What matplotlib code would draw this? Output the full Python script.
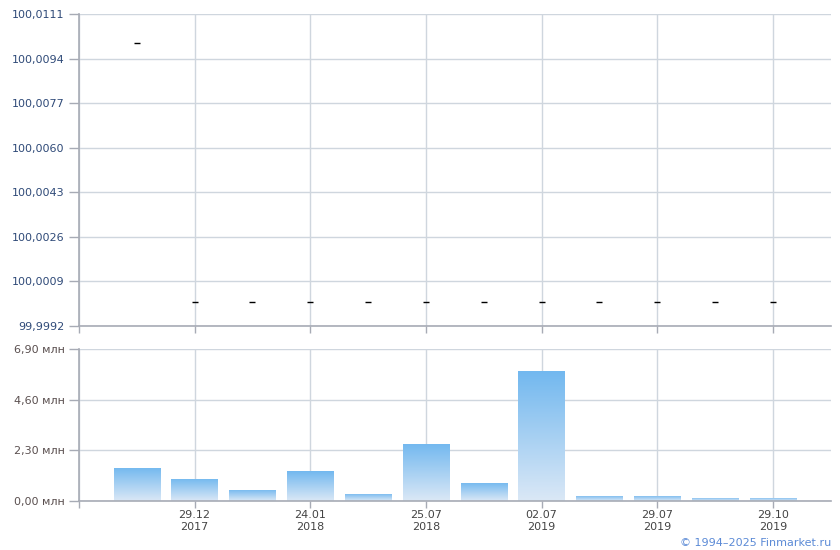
import numpy as np
import matplotlib
matplotlib.use('Agg')
import matplotlib.pyplot as plt
from matplotlib.ticker import FuncFormatter

# price per placement (top panel), volume in mln (bottom panel)
prices = [100.0100, 100.0001, 100.0001, 100.0001, 100.0001, 100.0001,
          100.0001, 100.0001, 100.0001, 100.0001, 100.0001, 100.0001]
volumes = [1.50, 1.00, 0.50, 1.36, 0.32, 2.59, 0.82, 5.90, 0.23, 0.23, 0.15, 0.15]
tick_idx = [1, 3, 5, 7, 9, 11]
tick_labels = ['29.12\n2017', '24.01\n2018', '25.07\n2018', '02.07\n2019', '29.07\n2019', '29.10\n2019']
price_ticks = [99.9992, 100.0009, 100.0026, 100.0043, 100.0060, 100.0077, 100.0094, 100.0111]
vol_ticks = [0.0, 2.3, 4.6, 6.9]

grid_c = '#cfd6de'
spine_c = '#a7abb5'
plt.rcParams['font.family'] = 'DejaVu Sans'
plt.rcParams['font.size'] = 8

fig = plt.figure(figsize=(8.4, 5.5), dpi=100)
ax1 = fig.add_axes([0.094, 0.4073, 0.895, 0.5672])
ax2 = fig.add_axes([0.094, 0.0891, 0.895, 0.2764])

x = np.arange(len(volumes))

for ax in (ax1, ax2):
    ax.set_xlim(-1, 12)
    ax.set_xticks([-1] + tick_idx)
    ax.grid(True, color=grid_c, linewidth=1)
    ax.set_axisbelow(True)
    for s in ('top', 'right'):
        ax.spines[s].set_visible(False)
    for s in ('left', 'bottom'):
        ax.spines[s].set_color(spine_c)
        ax.spines[s].set_linewidth(1.2)
    ax.tick_params(axis='x', color=spine_c, length=5, width=1, pad=1.5)
    ax.tick_params(axis='y', color=spine_c, length=7, width=1)

# top panel
ax1.plot(x, prices, linestyle='none', marker='_', markersize=4.5, color='black', markeredgewidth=1)
ax1.set_ylim(price_ticks[0], price_ticks[-1])
ax1.set_yticks(price_ticks)
ax1.set_yticklabels([('%.4f' % v).replace('.', ',') for v in price_ticks], color='#2f4a78')
ax1.set_xticklabels([])

# bottom panel with gradient bars
bars = ax2.bar(x, volumes, width=0.8, color='none', edgecolor='none')
grad = np.linspace(0, 1, 256).reshape(-1, 1)
cmap = matplotlib.colors.LinearSegmentedColormap.from_list('g', ['#dbe8f6', '#72b8ef'])
for b in bars:
    x0, y0 = b.get_x(), b.get_y()
    im = ax2.imshow(grad, extent=[x0, x0 + b.get_width(), y0, y0 + b.get_height()],
                    origin='lower', cmap=cmap, aspect='auto', zorder=2)
    im.set_clip_path(b)
ax2.set_xlim(-1, 12)
ax2.set_ylim(0, 6.9)
ax2.set_yticks(vol_ticks)
ax2.yaxis.set_major_formatter(FuncFormatter(lambda v, p: ('%.2f млн' % v).replace('.', ',')))
for t in ax2.get_yticklabels():
    t.set_color('#5a4f4f')
ax2.set_xticklabels([''] + tick_labels, color='#444444', linespacing=1.25)

fig.text(0.989, 0.003, '© 1994–2025 Finmarket.ru', ha='right', va='bottom',
         color='#5b8ad6', fontsize=8)

fig.savefig('out.png', dpi=100)
